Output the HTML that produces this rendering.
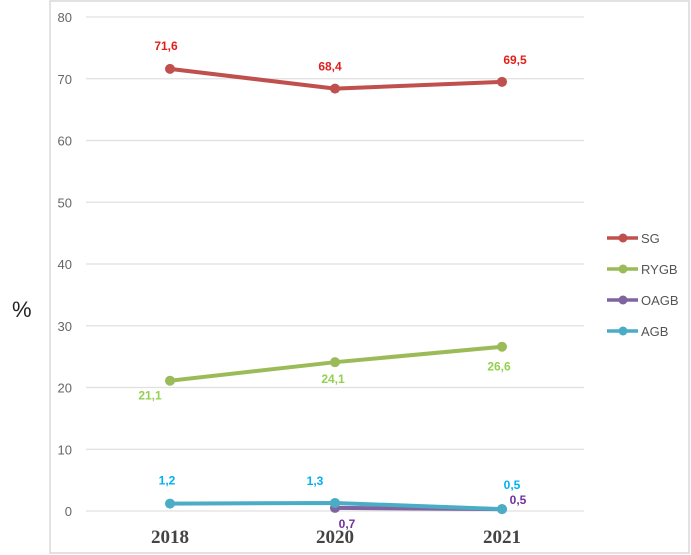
<!DOCTYPE html>
<html><head><meta charset="utf-8"><style>
html,body{margin:0;padding:0;background:#fff;}
svg{display:block;font-family:"Liberation Sans",sans-serif;}
</style></head><body>
<svg id="chart" width="691" height="555">
<rect x="50" y="1" width="639" height="552" fill="#fff" stroke="#d9d9d9" stroke-width="1.5"/>
<text x="12" y="317" font-size="22" fill="#222">%</text>
<g id="grid"></g><g id="series"></g><g id="legend"></g>
</svg>
<script>
const categories=["2018","2020","2021"];
const yTicks=[0,10,20,30,40,50,60,70,80];
const sgValues=[71.6,68.4,69.5];
const rygbValues=[21.1,24.1,26.6];
const oagbValues=[null,0.5,0.3];
const agbValues=[1.2,1.3,0.3];
const sgLabels=["71,6","68,4","69,5"];
const rygbLabels=["21,1","24,1","26,6"];
const oagbLabels=[null,"0,7","0,5"];
const agbLabels=["1,2","1,3","0,5"];
const seriesNames=["SG","RYGB","OAGB","AGB"];

const NS="http://www.w3.org/2000/svg";
const x0=86,x1=584,yTop=17,yBot=511;
function xs(i){return [170,335,502][0]+i*0+ (i===0?0:(i===1?165:332));}
function ys(v){return yBot-(v/80)*(yBot-yTop);}
function mk(tag,attrs,parent){const e=document.createElementNS(NS,tag);for(const k in attrs)e.setAttribute(k,attrs[k]);parent.appendChild(e);return e;}
const grid=document.getElementById('grid');
yTicks.forEach(t=>{
  const l=mk('line',{x1:x0,x2:x1,y1:ys(t),y2:ys(t),stroke:'#e0e0e0','stroke-width':1.2},grid);
  
  
  const tx=mk('text',{x:72,y:ys(t)+5,'font-size':13,fill:'#666','text-anchor':'end'},grid);
  tx.textContent=t;
  
  
});
categories.forEach((c,i)=>{
  const tx=mk('text',{x:xs(i),y:543,'font-size':19,'font-weight':'bold',fill:'#444','text-anchor':'middle','font-family':'Liberation Serif, serif'},grid);
  tx.textContent=c;
  
  
});
const sg=document.getElementById('series');
function draw(name,vals,labels,color,lblColor,offs){
  const pts=[];vals.forEach((v,i)=>{if(v!==null)pts.push([xs(i),ys(v),i]);});
  const pl=mk('polyline',{points:pts.map(p=>p[0]+','+p[1]).join(' '),fill:'none',stroke:color,'stroke-width':4,'stroke-linejoin':'round'},sg);
  
  
  pts.forEach(p=>{
    const c=mk('circle',{cx:p[0],cy:p[1],r:5,fill:color},sg);
    
    
    const o=offs[p[2]];
    const t=mk('text',{x:p[0]+o[0],y:p[1]+o[1],'font-size':12,'font-weight':'bold',fill:lblColor,'text-anchor':'middle'},sg);
    t.textContent=labels[p[2]];
    
    
  });
}
draw('sg',sgValues,sgLabels,'#c0504d','#e0201b',[[-4,-19],[-5,-18],[13,-18]]);
draw('rygb',rygbValues,rygbLabels,'#9bbb59','#92d050',[[-20,19],[-2,21],[-3,24]]);
draw('oagb',oagbValues,oagbLabels,'#8064a2','#7030a0',[[0,0],[12,20],[16,-5]]);
draw('agb',agbValues,agbLabels,'#4bacc6','#00b0f0',[[-3,-19],[-20,-18],[10,-20]]);
const lg=document.getElementById('legend');
const lc=['#c0504d','#9bbb59','#8064a2','#4bacc6'];
seriesNames.forEach((n,i)=>{
  const y=238+i*31;
  const g=mk('g',{},lg);
  
  
  mk('line',{x1:607,x2:638,y1:y,y2:y,stroke:lc[i],'stroke-width':3.5},g);
  mk('circle',{cx:623,cy:y,r:4.5,fill:lc[i]},g);
  const t=mk('text',{x:641,y:y+5,'font-size':13,fill:'#555'},g);
  t.textContent=n;
});
</script>
</body></html>
